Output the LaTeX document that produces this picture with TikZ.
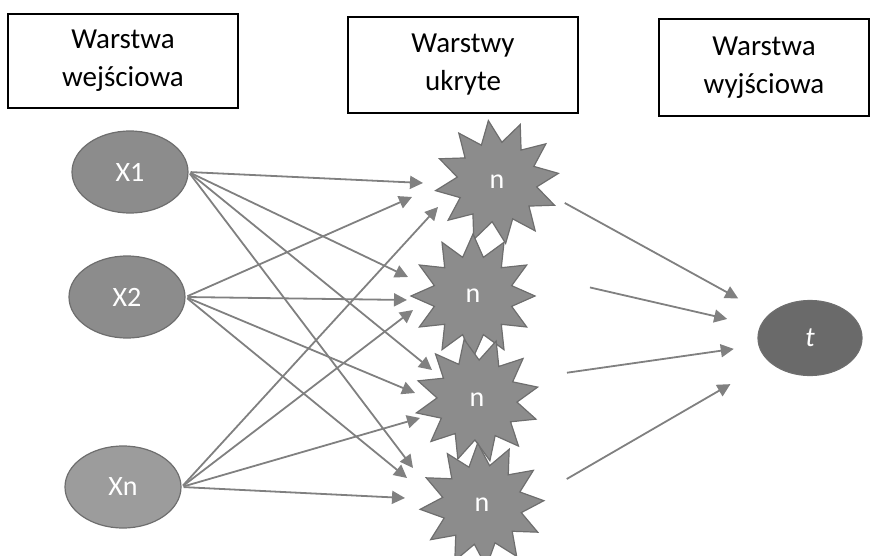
\documentclass[tikz,border=0pt]{standalone}
\usepackage{fontspec}
\setmainfont{Carlito}
\usetikzlibrary{arrows.meta,shapes}
\definecolor{nodegray}{HTML}{8C8C8C}
\definecolor{lightgray2}{HTML}{9C9C9C}
\definecolor{darkgray2}{HTML}{6A6A6A}
\definecolor{edgegray}{HTML}{6E6E6E}
\definecolor{linegray}{HTML}{808080}

\begin{document}
\begin{tikzpicture}[x=0.5pt,y=-0.5pt,>={Triangle[length=6.5pt,width=6.5pt]},
                    line width=0.9pt]
  \tikzstyle{layer}=[draw,line width=0.8pt,align=center,inner sep=0pt,
                     font=\fontsize{14.5}{19}\selectfont]
  \tikzstyle{unit}=[ellipse,draw=edgegray,line width=0.6pt,fill=nodegray,
                    text=white,inner sep=0pt,minimum width=58pt,minimum height=41pt,
                    font=\fontsize{14}{16}\selectfont]
  \tikzstyle{hidden}=[star,star points=12,star point ratio=1.55,minimum size=62pt,
                      draw=edgegray,line width=0.6pt,fill=nodegray,text=white,
                      inner sep=0pt,font=\fontsize{14}{16}\selectfont]
  \tikzstyle{conn}=[->,draw=linegray,fill=linegray,shorten <=1pt]

  \useasboundingbox (0,0) rectangle (872,556);

  % layer titles
  \node[layer,minimum width=115pt,minimum height=47pt] (l1) at (123,61) {Warstwa\\wejściowa};
  \node[layer,minimum width=115pt,minimum height=48pt] (l2) at (463,65) {Warstwy\\ukryte};
  \node[layer,minimum width=105pt,minimum height=48.5pt] (l3) at (764,67.5) {Warstwa\\wyjściowa};

  % input units
  \node[unit] (x1) at (130,172) {X1};
  \node[unit] (x2) at (127,297) {X2};
  \node[unit,fill=lightgray2] (xn) at (123,487) {Xn};

  % hidden units
  \node[hidden,shape border rotate=8]  (h1) at (497,182) {n};
  \node[hidden,shape border rotate=0]  (h2) at (473,296) {n};
  \node[hidden,shape border rotate=12] (h3) at (477,400) {n};
  \node[hidden,shape border rotate=4]  (h4) at (482,505) {n};

  % output unit
  \node[unit,fill=darkgray2,minimum width=52pt,minimum height=37.5pt] (t) at (810,338) {\textit{t}};

  % arrow ends
  \foreach \c/\x/\y in {e11/423/183, e12/408/277, e13/432/370, e14/413/468,
                        e21/412/197, e22/407/300, e23/415/393, e24/407/478,
                        e31/438/207, e32/413/310, e33/420/418, e34/405/498,
                        s1/563/202, s2/588/287, s3/565/373, s4/565/480}
    \coordinate (\c) at (\x,\y);

  \foreach \i/\s in {1/x1,2/x2,3/xn}
    \foreach \j in {1,...,4}
      \draw[conn] (\s.east) -- (e\i\j);

  \foreach \j/\d in {1/41pt,2/42.5pt,3/38.5pt,4/46pt}
    \draw[conn,shorten >=\d] (s\j) -- (t.center);

\end{tikzpicture}
\end{document}
